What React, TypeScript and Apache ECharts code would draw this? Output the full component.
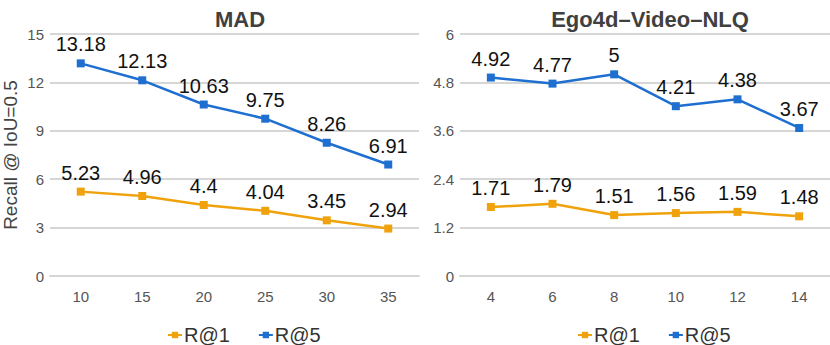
import React, { useEffect, useRef } from "react";
import * as echarts from "echarts";

const madCategories = ["10", "15", "20", "25", "30", "35"];
const madR1 = [5.23, 4.96, 4.4, 4.04, 3.45, 2.94];
const madR5 = [13.18, 12.13, 10.63, 9.75, 8.26, 6.91];

const egoCategories = ["4", "6", "8", "10", "12", "14"];
const egoR1 = [1.71, 1.79, 1.51, 1.56, 1.59, 1.48];
const egoR5 = [4.92, 4.77, 5, 4.21, 4.38, 3.67];

const ORANGE = "#F0A20C";
const BLUE = "#1F6FD1";
const FONT = "Liberation Sans";

export default function App() {
  const ref = useRef<HTMLDivElement>(null);
  useEffect(() => {
    if (!ref.current) return;
    const chart = echarts.init(ref.current, undefined, { renderer: "svg" });
    const mkSeries = (name: string, data: number[], color: string, idx: number) => ({
      name,
      type: "line",
      xAxisIndex: idx,
      yAxisIndex: idx,
      data,
      symbol: "rect",
      symbolSize: 8,
      lineStyle: { color, width: 2.5 },
      itemStyle: { color },
      label: {
        show: true,
        position: "top",
        distance: 5,
        color: "#111",
        fontSize: 20,
        fontFamily: FONT,
      },
    });
    const xAxis = (cats: string[], idx: number) => ({
      type: "category",
      gridIndex: idx,
      data: cats,
      boundaryGap: true,
      axisLine: { show: true, lineStyle: { color: "#D6D6D6", width: 2 } },
      axisTick: { show: false },
      axisLabel: { color: "#555", fontSize: 15, fontFamily: FONT, margin: 13 },
    });
    const yAxis = (idx: number, max: number, interval: number) => ({
      type: "value",
      gridIndex: idx,
      min: 0,
      max,
      interval,
      axisLine: { show: false },
      axisTick: { show: false },
      splitLine: { lineStyle: { color: "#D6D6D6", width: 2 } },
      axisLabel: {
        color: "#555",
        fontSize: 15,
        fontFamily: FONT,
        margin: 6,
        formatter: (v: number) => String(Math.round(v * 10) / 10),
      },
    });
    const legend = (left: number) => ({
      data: ["R@1", "R@5"],
      left,
      top: 320,
      itemWidth: 14,
      itemHeight: 8,
      itemGap: 28,
      textStyle: { color: "#333", fontSize: 20, fontFamily: FONT, padding: [0, 0, 0, -3] },
    });
    chart.setOption({
      animation: false,
      backgroundColor: "#fff",
      title: [
        {
          text: "MAD",
          left: 235,
          textAlign: "center",
          top: 3,
          textStyle: { color: "#404040", fontSize: 22, fontWeight: "bold", fontFamily: FONT },
        },
        {
          text: "Ego4d\u2013Video\u2013NLQ",
          left: 645,
          textAlign: "center",
          top: 3,
          textStyle: { color: "#404040", fontSize: 22, fontWeight: "bold", fontFamily: FONT },
        },
      ],
      legend: [legend(162), legend(572)],
      grid: [
        { left: 50, top: 34, width: 369, height: 242 },
        { left: 460, top: 34, width: 370, height: 242 },
      ],
      xAxis: [xAxis(madCategories, 0), xAxis(egoCategories, 1)],
      yAxis: [
        {
          ...yAxis(0, 15, 3),
          name: "Recall @ IoU=0.5",
          nameLocation: "middle",
          nameGap: 30,
          nameTextStyle: { color: "#444", fontSize: 19, fontFamily: FONT },
        },
        yAxis(1, 6, 1.2),
      ],
      series: [
        mkSeries("R@1", madR1, ORANGE, 0),
        mkSeries("R@5", madR5, BLUE, 0),
        mkSeries("R@1", egoR1, ORANGE, 1),
        mkSeries("R@5", egoR5, BLUE, 1),
      ],
    });
    return () => chart.dispose();
  }, []);
  return (
    <div
      ref={ref}
      style={{ position: "fixed", left: 0, top: 0, width: 830, height: 345 }}
    />
  );
}
